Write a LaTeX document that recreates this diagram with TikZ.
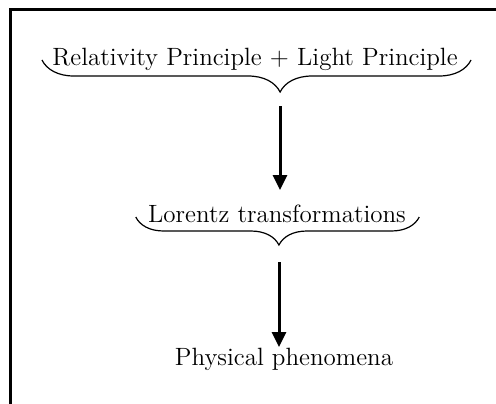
\documentclass[tikz,border=0pt]{standalone}
\usetikzlibrary{arrows.meta, decorations.pathreplacing}

\begin{document}
\begin{tikzpicture}[
    x=0.5pt, y=-0.5pt,
    label/.style={anchor=base, inner sep=0pt, font=\fontsize{12.5}{15}\selectfont},
    brace/.style 2 args={decorate, decoration={brace, mirror, amplitude=#1, aspect=#2}, line width=0.6pt},
    arrow/.style={-{Triangle[length=7.5pt, width=7pt]}, line width=1.5pt}
]
    \useasboundingbox (0,0) rectangle (496,403);
    \clip (0,0) rectangle (496,403);
    \draw[line width=1.5pt] (10.5,9) rectangle (520,420);

    \node[label] (rel) at (255,65) {Relativity Principle + Light Principle};
    \node[label] (lor) at (277,222) {Lorentz transformations};
    \node[label] (phys) at (284,365) {Physical phenomena};

    \draw[brace={16pt}{0.555}] ([xshift=-5pt, yshift=2.5pt]rel.base west) -- ([xshift=6.5pt, yshift=2.5pt]rel.base east);
    \draw[brace={14pt}{0.505}] ([xshift=-6pt, yshift=2.5pt]lor.base west) -- ([xshift=6.5pt, yshift=2.5pt]lor.base east);

    \coordinate (tip1) at (280,92);
    \coordinate (tip2) at (279,247);
    \draw[arrow, shorten <=7pt, shorten >=16pt] (tip1) -- (tip1 |- lor.base);
    \draw[arrow, shorten <=7.5pt, shorten >=9pt] (tip2) -- (tip2 |- phys.base);
\end{tikzpicture}
\end{document}
